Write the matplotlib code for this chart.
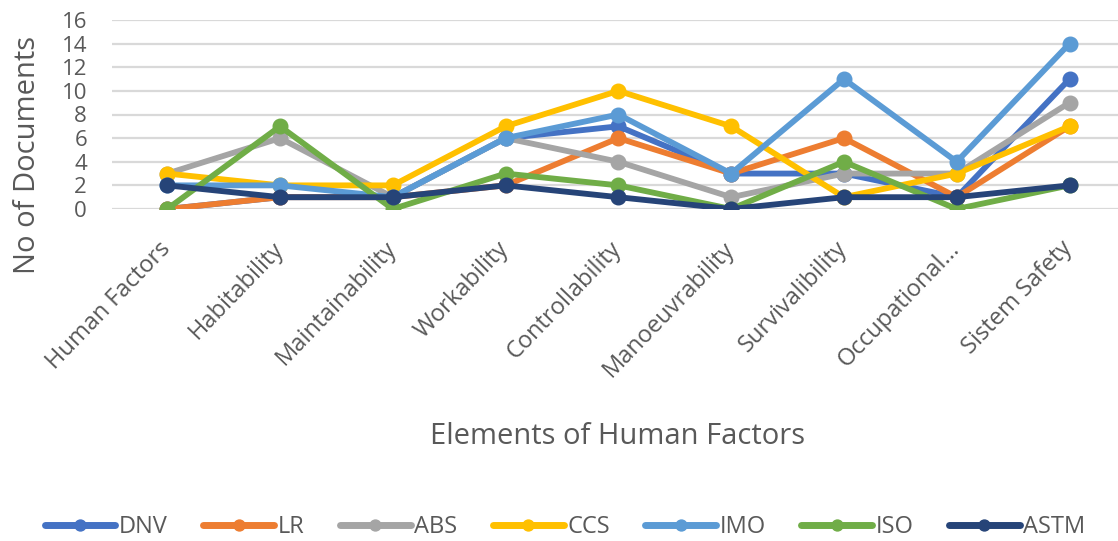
import matplotlib
matplotlib.use("Agg")
import matplotlib.pyplot as plt
from matplotlib.transforms import ScaledTranslation

categories = ["Human Factors", "Habitability", "Maintainability", "Workability",
              "Controllability", "Manoeuvrability", "Survivalibility",
              "Occupational...", "Sistem Safety"]

DNV  = [0, 1, 1, 6, 7, 3, 3, 1, 11]
LR   = [0, 1, 1, 2, 6, 3, 6, 1, 7]
ABS  = [3, 6, 1, 6, 4, 1, 3, 3, 9]
CCS  = [3, 2, 2, 7, 10, 7, 1, 3, 7]
IMO  = [2, 2, 1, 6, 8, 3, 11, 4, 14]
ISO  = [0, 7, 0, 3, 2, 0, 4, 0, 2]
ASTM = [2, 1, 1, 2, 1, 0, 1, 1, 2]

series = [("DNV", DNV, "#4472C4"), ("LR", LR, "#ED7D31"), ("ABS", ABS, "#A5A5A5"),
          ("CCS", CCS, "#FFC000"), ("IMO", IMO, "#5B9BD5"), ("ISO", ISO, "#70AD47"),
          ("ASTM", ASTM, "#264478")]

plt.rcParams['font.family'] = ['Open Sans', 'DejaVu Sans']
txt = "#595959"

fig = plt.figure(figsize=(11.18, 5.41), dpi=100)
W, H = 1118, 541
left, right, top, bottom = 112, 1118, 20, 209
ax = fig.add_axes([left / W, 1 - bottom / H, (right - left) / W, (bottom - top) / H])

x = list(range(len(categories)))
for name, vals, col in series:
    ax.plot(x, vals, color=col, lw=4.2, marker='o', markersize=10.5, label=name,
            solid_joinstyle='round', solid_capstyle='round')

ax.set_ylim(0, 16)
ax.set_xlim(-0.49, 8.43)
ax.set_yticks(range(0, 17, 2))
ax.grid(axis='y', color='#D9D9D9', lw=1.6)
ax.set_axisbelow(True)
for s in ax.spines.values():
    s.set_visible(False)
ax.tick_params(length=0)
ax.tick_params(axis='y', labelsize=16, labelcolor=txt, pad=18)
ax.set_xticks(x)
ax.set_xticklabels(categories, rotation=46, ha='right', rotation_mode='anchor',
                   fontsize=17, color=txt)
ax.tick_params(axis='x', pad=20)
shift = ScaledTranslation(-9 / 100, 0, fig.dpi_scale_trans)
for lab in ax.get_xticklabels():
    lab.set_transform(lab.get_transform() + shift)

fig.text(28 / W, 1 - 155 / H, "No of Documents", rotation=90, ha='center', va='center',
         fontsize=21, color=txt)
fig.text(618 / W, 1 - 437 / H, "Elements of Human Factors", ha='center', va='center',
         fontsize=21, color=txt)

leg = fig.legend(loc='center', bbox_to_anchor=(565 / W, 1 - 527 / H), ncol=7,
                 frameon=False, fontsize=17, handlelength=3.0, handletextpad=0.15,
                 columnspacing=1.5, markerscale=0.75)
for t in leg.get_texts():
    t.set_color(txt)
for h in leg.legend_handles:
    h.set_linewidth(5)

fig.savefig("out.png", dpi=100)
